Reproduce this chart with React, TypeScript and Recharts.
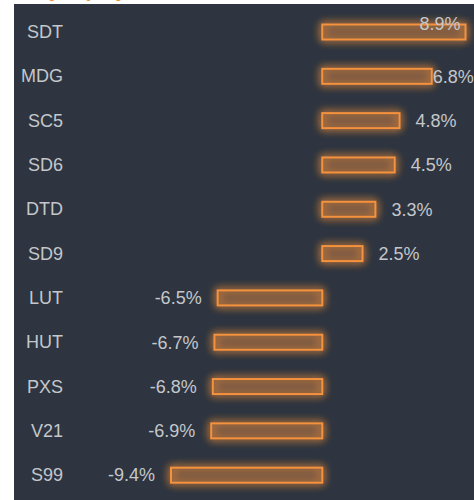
/**
 * 当日涨跌幅横向条形图
 */
import { BarChart, Bar, XAxis, YAxis, LabelList } from "recharts";

/* 代码与涨跌幅 */
const categories = ["SDT", "MDG", "SC5", "SD6", "DTD", "SD9", "LUT", "HUT", "PXS", "V21", "S99"];
const changes = [8.9, 6.8, 4.8, 4.5, 3.3, 2.5, -6.5, -6.7, -6.8, -6.9, -9.4];

const TITLE = "Daily Equity Moves";

const CHART_W = 460;
const CHART_H = 496;
const BG = "#2e3540";
const ORANGE = "#f5923e";
const TEXT = "#c4c7cb";

const data = categories.map((name, i) => ({ name, value: changes[i] }));

/* 发光条形 */
function GlowBar(props: any) {
  const { x, y, width, height } = props;
  const left = Math.min(x, x + width);
  const w = Math.abs(width);
  return (
    <rect
      x={left}
      y={y}
      width={w}
      height={height}
      fill="rgba(245,146,62,0.12)"
      stroke={ORANGE}
      strokeWidth={2}
      filter="url(#barGlow)"
    />
  );
}

/* 数值标签：超出右边界时往里收 */
function ValueLabel(props: any) {
  const { x, y, width, height, value } = props;
  const left = Math.min(x, x + width);
  const right = Math.max(x, x + width);
  const cy = y + height / 2;
  const text = `${Number(value).toFixed(1)}%`;
  const tw = text.length * 10.3;
  let tx = right + 16;
  let ty = cy;
  let anchor: "start" | "end" = "start";
  if (value < 0) {
    tx = left - 16;
    anchor = "end";
  } else if (tx + tw > CHART_W) {
    if (right + 2 + tw <= CHART_W + 8) {
      tx = right + 1;
    } else {
      tx = right - 5;
      ty = cy - 8;
      anchor = "end";
    }
  }
  return (
    <text x={tx} y={ty} dy="0.35em" textAnchor={anchor} fill={TEXT} fontSize={18}>
      {text}
    </text>
  );
}

export default function App() {
  return (
    <div style={{ position: "absolute", left: 0, top: 0, width: 474, height: 500, overflow: "hidden", fontFamily: "'Liberation Sans', Arial, sans-serif" }}>
      <svg width={0} height={0} style={{ position: "absolute" }}>
        <defs>
          <filter id="barGlow" x="-30%" y="-150%" width="160%" height="400%">
            <feGaussianBlur in="SourceGraphic" stdDeviation={4} result="blur" />
            <feMerge>
              <feMergeNode in="blur" />
              <feMergeNode in="blur" />
              <feMergeNode in="SourceGraphic" />
            </feMerge>
          </filter>
        </defs>
      </svg>

      {/* 标题（被面板遮住大半） */}
      <div
        style={{
          position: "absolute",
          left: 14,
          top: -20,
          fontSize: 20,
          lineHeight: "20px",
          fontWeight: "bold",
          fontStyle: "italic",
          color: ORANGE,
          whiteSpace: "nowrap",
        }}
      >
        {TITLE}
      </div>

      <div style={{ position: "absolute", left: 14, top: 4, width: CHART_W, height: CHART_H, background: BG }}>
        <BarChart
          width={CHART_W}
          height={CHART_H}
          data={data}
          layout="vertical"
          margin={{ top: 5.5, right: 8.5, bottom: 3, left: 0 }}
          style={{ overflow: "visible" }}
        >
          <XAxis type="number" hide domain={["dataMin", "dataMax"]} />
          <YAxis
            type="category"
            dataKey="name"
            width={157}
            axisLine={false}
            tickLine={false}
            tickSize={0}
            tickMargin={108}
            tick={{ fill: TEXT, fontSize: 18 }}
            interval={0}
          />
          <Bar dataKey="value" barSize={15} shape={GlowBar} isAnimationActive={false}>
            <LabelList dataKey="value" content={ValueLabel} />
          </Bar>
        </BarChart>
      </div>
    </div>
  );
}
